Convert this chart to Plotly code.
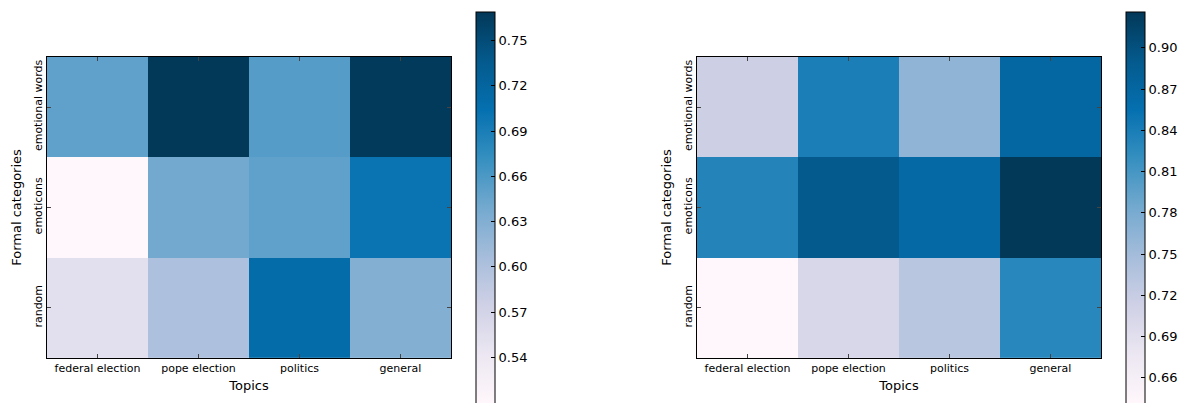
import plotly.graph_objects as go

topics = ["federal election", "pope election", "politics", "general"]
categories = ["emotional words", "emoticons", "random"]

# rows follow `categories` (top to bottom)
left_emotional = [0.650, 0.769, 0.655, 0.767]
left_emoticons = [0.509, 0.639, 0.650, 0.701]
left_random = [0.553, 0.601, 0.710, 0.629]

right_emotional = [0.715, 0.839, 0.764, 0.869]
right_emoticons = [0.832, 0.890, 0.866, 0.926]
right_random = [0.641, 0.702, 0.732, 0.829]

left_ticks = [0.54, 0.57, 0.60, 0.63, 0.66, 0.69, 0.72, 0.75]
right_ticks = [0.66, 0.69, 0.72, 0.75, 0.78, 0.81, 0.84, 0.87, 0.90]

pubu = [
    [0.0, "rgb(255,247,251)"], [0.125, "rgb(236,231,242)"],
    [0.25, "rgb(208,209,230)"], [0.375, "rgb(166,189,219)"],
    [0.5, "rgb(116,169,207)"], [0.625, "rgb(54,144,192)"],
    [0.75, "rgb(5,112,176)"], [0.875, "rgb(4,90,141)"],
    [1.0, "rgb(2,56,88)"],
]

W, H = 1187, 403
FONT = "DejaVu Sans"


def px_x(v):
    return v / W


def px_y(v):
    return 1 - v / H


def colorbar(x_left, ticks):
    return dict(
        x=px_x(x_left), xanchor="left", xpad=0,
        y=px_y(208), yanchor="middle", ypad=0,
        len=392 / H, lenmode="fraction",
        thickness=19, thicknessmode="pixels",
        outlinewidth=1, outlinecolor="black",
        ticks="inside", ticklen=4, tickcolor="black",
        tickvals=ticks, ticktext=[f"{t:.2f}" for t in ticks],
        tickfont=dict(family=FONT, size=13, color="black"),
    )


fig = go.Figure()
fig.add_trace(go.Heatmap(
    z=[left_emotional, left_emoticons, left_random],
    x=topics, y=categories, colorscale=pubu,
    zmin=min(left_emotional + left_emoticons + left_random),
    zmax=max(left_emotional + left_emoticons + left_random),
    colorbar=colorbar(476, left_ticks),
    xaxis="x", yaxis="y",
))
fig.add_trace(go.Heatmap(
    z=[right_emotional, right_emoticons, right_random],
    x=topics, y=categories, colorscale=pubu,
    zmin=min(right_emotional + right_emoticons + right_random),
    zmax=max(right_emotional + right_emoticons + right_random),
    colorbar=colorbar(1126, right_ticks),
    xaxis="x2", yaxis="y2",
))

axis_common = dict(
    showline=True, linecolor="black", linewidth=1, mirror="ticks",
    ticks="inside", ticklen=4, tickcolor="#444", showgrid=False,
    zeroline=False, tickfont=dict(family=FONT, size=11, color="black"),
)
xtitle = dict(text="Topics", font=dict(family=FONT, size=13, color="black"), standoff=6)
ytitle = dict(text="Formal categories", font=dict(family=FONT, size=13, color="black"), standoff=7)

fig.update_layout(
    width=W, height=H,
    margin=dict(l=0, r=0, t=0, b=0),
    paper_bgcolor="white", plot_bgcolor="white",
    xaxis=dict(domain=[px_x(47), px_x(451)], anchor="y", range=[-0.5, 3.5],
               title=xtitle, **axis_common),
    yaxis=dict(domain=[px_y(359), px_y(57)], anchor="x", range=[2.5, -0.5],
               tickangle=-90, title=ytitle, **axis_common),
    xaxis2=dict(domain=[px_x(697), px_x(1101)], anchor="y2", range=[-0.5, 3.5],
                title=xtitle, **axis_common),
    yaxis2=dict(domain=[px_y(359), px_y(57)], anchor="x2", range=[2.5, -0.5],
                tickangle=-90, title=ytitle, **axis_common),
)

fig.write_html("out.html")
